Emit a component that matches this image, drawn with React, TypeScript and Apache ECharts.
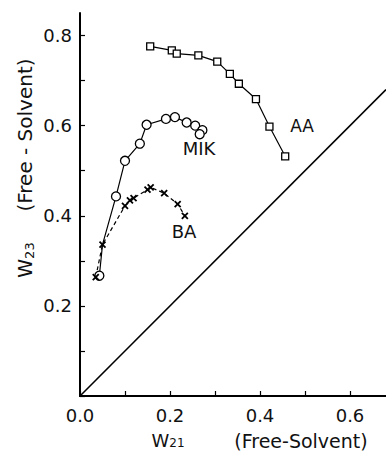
import React, { useEffect, useRef } from "react";
import * as echarts from "echarts";

// AA series (squares)
const aaW21 = [0.156, 0.204, 0.215, 0.263, 0.305, 0.333, 0.353, 0.391, 0.421, 0.456];
const aaW23 = [0.776, 0.767, 0.760, 0.756, 0.742, 0.715, 0.693, 0.659, 0.598, 0.532];
// MIK series (circles); second point is a line vertex without marker
const mikW21 = [0.043, 0.050, 0.080, 0.100, 0.133, 0.148, 0.191, 0.211, 0.237, 0.256, 0.272, 0.266];
const mikW23 = [0.267, 0.336, 0.443, 0.522, 0.560, 0.602, 0.615, 0.619, 0.607, 0.600, 0.590, 0.581];
const mikNoMarker = [1];
// BA series (crosses)
const baW21 = [0.035, 0.050, 0.100, 0.111, 0.119, 0.150, 0.157, 0.187, 0.217, 0.233];
const baW23 = [0.264, 0.336, 0.422, 0.434, 0.439, 0.458, 0.463, 0.450, 0.426, 0.400];
// diagonal W23 = W21
const diagW21 = [0, 0.68];
const diagW23 = [0, 0.68];

const seriesLabels = ["AA", "MIK", "BA"];
const xName = "(Free-Solvent)";
const yName = "(Free - Solvent)";

export default function App() {
  const ref = useRef<HTMLDivElement>(null);
  useEffect(() => {
    const chart = echarts.init(ref.current!, null, { renderer: "svg" });
    const font = "DejaVu Sans";
    const fmt = (v: number, showZero: boolean) => {
      const k = v * 10;
      const r = Math.round(k);
      if (Math.abs(k - r) > 1e-6 || r % 2 !== 0) return "";
      if (r === 0 && !showZero) return "";
      return (r / 10).toFixed(1);
    };
    const zip = (a: number[], b: number[]) => a.map((v, i) => [v, b[i]]);
    const mikData = mikW21.map((v, i) =>
      mikNoMarker.includes(i) ? { value: [v, mikW23[i]], symbol: "none" } : [v, mikW23[i]]
    );
    const axisCommon = {
      type: "value" as const,
      min: 0,
      interval: 0.1,
      splitLine: { show: false },
      axisTick: { show: true, inside: true, length: 5, lineStyle: { color: "#000", width: 1.2 } },
      axisLine: { show: true, onZero: false, lineStyle: { color: "#000", width: 2 } },
    };
    chart.setOption({
      animation: false,
      backgroundColor: "#fff",
      grid: { left: 80, top: 13, right: 0, bottom: 57 },
      xAxis: [
        {
          ...axisCommon,
          max: 0.68,
          axisLabel: {
            margin: 10,
            fontFamily: font,
            fontSize: 18,
            color: "#111",
            showMaxLabel: false,
            formatter: (v: number) => fmt(v, true),
          },
        },
        {
          type: "value",
          position: "top",
          min: 0,
          max: 0.68,
          axisLine: { show: true, lineStyle: { color: "#000", width: 2 } },
          axisTick: { show: false },
          axisLabel: { show: false },
          splitLine: { show: false },
        },
      ],
      yAxis: {
        ...axisCommon,
        max: 0.85,
        axisLabel: {
          margin: 8,
          fontFamily: font,
          fontSize: 18,
          color: "#111",
          showMaxLabel: false,
          formatter: (v: number) => fmt(v, false),
        },
      },
      series: [
        {
          type: "line",
          data: zip(diagW21, diagW23),
          symbol: "none",
          lineStyle: { color: "#000", width: 1.6 },
        },
        {
          type: "line",
          data: zip(aaW21, aaW23),
          symbol: "rect",
          symbolSize: 7,
          itemStyle: { color: "#fff", borderColor: "#000", borderWidth: 1.3 },
          lineStyle: { color: "#000", width: 1.2 },
        },
        {
          type: "line",
          data: mikData,
          symbol: "circle",
          symbolSize: 9,
          itemStyle: { color: "#fff", borderColor: "#000", borderWidth: 1.3 },
          lineStyle: { color: "#000", width: 1.2 },
        },
        {
          type: "line",
          data: zip(baW21, baW23),
          symbol: "path://M0,0L10,10M10,0L0,10",
          symbolSize: 6,
          itemStyle: { color: "rgba(0,0,0,0)", borderColor: "#000", borderWidth: 1.8 },
          lineStyle: { color: "#000", width: 1.2, type: [4, 3] },
        },
      ],
      graphic: [
        {
          type: "text",
          x: 302,
          y: 126,
          style: { text: seriesLabels[0], font: `17px ${font}`, fill: "#111", align: "center", verticalAlign: "middle" },
        },
        {
          type: "text",
          x: 199,
          y: 148,
          style: { text: seriesLabels[1], font: `18px ${font}`, fill: "#111", align: "center", verticalAlign: "middle" },
        },
        {
          type: "text",
          x: 184,
          y: 231,
          style: { text: seriesLabels[2], font: `18px ${font}`, fill: "#111", align: "center", verticalAlign: "middle" },
        },
        {
          type: "text",
          x: 25,
          y: 135,
          rotation: Math.PI / 2,
          style: { text: yName, font: `20px ${font}`, fill: "#111", align: "center", verticalAlign: "middle" },
        },
        {
          type: "text",
          x: 25,
          y: 260,
          rotation: Math.PI / 2,
          style: {
            text: "{w|W}{s|23}",
            align: "center",
            verticalAlign: "middle",
            rich: {
              w: { fontFamily: font, fontSize: 19, fill: "#111" },
              s: { fontFamily: font, fontSize: 13, fill: "#111", padding: [8, 0, 0, 0] },
            },
          },
        },
        {
          type: "text",
          x: 168,
          y: 440,
          style: {
            text: "{w|W}{s|21}",
            align: "center",
            verticalAlign: "middle",
            rich: {
              w: { fontFamily: font, fontSize: 18, fill: "#111" },
              s: { fontFamily: font, fontSize: 12, fill: "#111", padding: [6, 0, 0, 0] },
            },
          },
        },
        {
          type: "text",
          x: 301,
          y: 441,
          style: { text: xName, font: `19px ${font}`, fill: "#111", align: "center", verticalAlign: "middle" },
        },
      ],
    });
    return () => chart.dispose();
  }, []);
  return <div ref={ref} style={{ position: "absolute", left: 0, top: 0, width: 386, height: 453 }} />;
}
